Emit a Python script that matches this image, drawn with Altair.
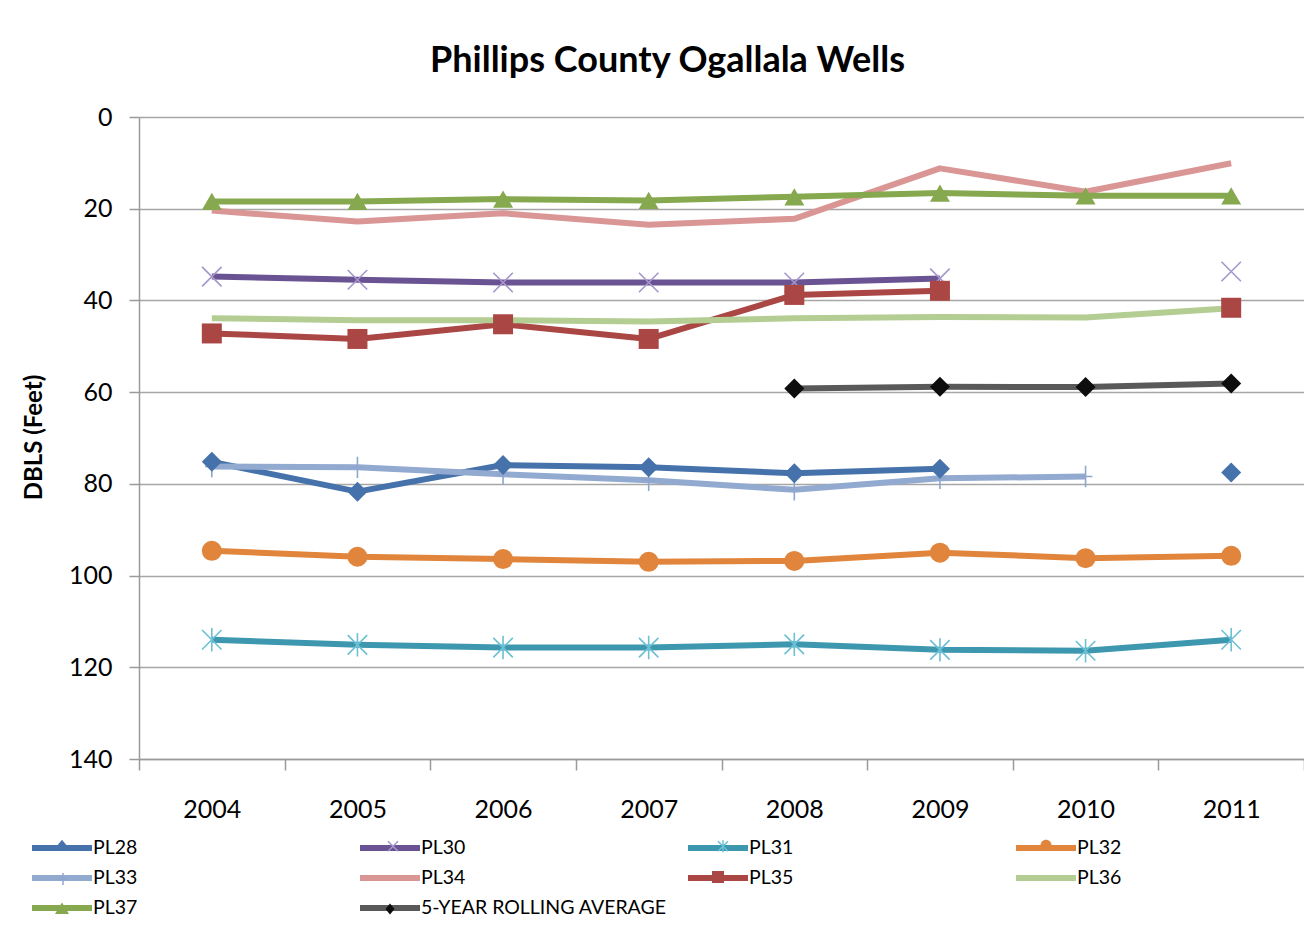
import altair as alt
import pandas as pd

years = ["2004", "2005", "2006", "2007", "2008", "2009", "2010", "2011"]
series_names = ["PL28", "PL30", "PL31", "PL32", "PL33", "PL34", "PL35", "PL36", "PL37",
                "5-YEAR ROLLING AVERAGE"]

pl28 = [75.2, 81.7, 75.9, 76.4, 77.7, 76.7, None, 77.5]
pl30 = [34.8, 35.5, 36.1, 36.1, 36.1, 35.2, None, 33.7]
pl31 = [114.0, 115.1, 115.7, 115.7, 115.0, 116.2, 116.4, 114.0]
pl32 = [94.6, 95.9, 96.4, 97.0, 96.8, 95.0, 96.2, 95.7]
pl33 = [76.2, 76.4, 77.9, 79.2, 81.3, 78.8, 78.4, None]
pl34 = [20.4, 22.8, 21.0, 23.5, 22.2, 11.2, 16.3, 10.1]
pl35 = [47.2, 48.4, 45.2, 48.4, 38.8, 37.9, None, 41.6]
pl36 = [43.9, 44.3, 44.3, 44.6, 43.9, 43.6, 43.7, 41.7]
pl37 = [18.4, 18.4, 17.9, 18.2, 17.4, 16.6, 17.2, 17.2]
rolling_avg = [None, None, None, None, 59.2, 58.8, 58.9, 58.1]

values = [pl28, pl30, pl31, pl32, pl33, pl34, pl35, pl36, pl37, rolling_avg]

# ---- styles ----
line_colors = ["#4672AB", "#6A5393", "#3D97AE", "#E0853B", "#92A9D0", "#D99694",
               "#AA4643", "#B4CD93", "#86A84E", "#595959"]
filled_series = ["PL28", "PL32", "PL35", "PL37", "5-YEAR ROLLING AVERAGE"]
filled_colors = ["#4672AB", "#E0853B", "#AA4643", "#86A84E", "#0D0D0D"]
filled_shapes = ["diamond", "circle", "square", "triangle-up", "diamond"]
filled_sizes = [400, 400, 400, 460, 380]
stroked_series = ["PL30", "PL31", "PL33"]
stroked_colors = ["#A596CC", "#6CC0D5", "#8EA6CE"]
stroked_shapes = ["M-1,-1L1,1M-1,1L1,-1",
                  "M-1,-1L1,1M-1,1L1,-1M0,-1.2L0,1.2",
                  "M0,-1.1L0,1.1M-0.7,0L0.7,0"]
stroked_sizes = [380, 380, 420]

# legend marker glyphs (small shapes drawn on top of the legend line samples)
EMPTY = "M0,0"
DIAMOND_S = "M0,-0.55L0.45,0L0,0.55L-0.45,0Z"
CIRCLE_S = "M-0.55,0A0.55,0.55 0 1,0 0.55,0A0.55,0.55 0 1,0 -0.55,0Z"
SQUARE_S = "M-0.6,-0.6H0.6V0.6H-0.6Z"
TRI_S = "M0,-0.65L0.7,0.5H-0.7Z"
X_S = "M-0.5,-0.5L0.5,0.5M-0.5,0.5L0.5,-0.5"
AST_S = "M-0.5,-0.5L0.5,0.5M-0.5,0.5L0.5,-0.5M0,-0.6V0.6"
PLUS_S = "M0,-0.6V0.6M-0.5,0H0.5"
legend_filled_shapes = [DIAMOND_S, EMPTY, EMPTY, CIRCLE_S, EMPTY, EMPTY, SQUARE_S, EMPTY,
                        TRI_S, DIAMOND_S]
legend_filled_colors = ["#4672AB", "#000", "#000", "#E0853B", "#000", "#000", "#AA4643",
                        "#000", "#86A84E", "#0D0D0D"]
legend_stroked_shapes = [EMPTY, X_S, AST_S, EMPTY, PLUS_S, EMPTY, EMPTY, EMPTY, EMPTY, EMPTY]
legend_stroked_colors = ["#000", "#A596CC", "#6CC0D5", "#000", "#8EA6CE", "#000", "#000",
                         "#000", "#000", "#000"]

rows = []
for name, vals in zip(series_names, values):
    seg = 0
    for yr, v in zip(years, vals):
        if v is None:
            seg += 1
            continue
        rows.append({"year": yr, "series": name, "value": v, "seg": f"{name}-{seg}"})
df = pd.DataFrame(rows)

FONT = "Lato"
LEG_X, LEG_Y = -90, 718

x_enc = alt.X(
    "year:O",
    bandPosition=0.5,
    scale=alt.Scale(type="band", domain=years, paddingInner=0, paddingOuter=0),
    axis=alt.Axis(title=None, tickBand="extent", labelAngle=0, labelFont=FONT,
                  labelFontSize=25, labelColor="black", labelPadding=27,
                  tickSize=11, tickColor="#9A9A9A", tickWidth=1.5,
                  domainColor="#9A9A9A", domainWidth=1.5, grid=False),
)
y_enc = alt.Y(
    "value:Q",
    scale=alt.Scale(domain=[0, 140], reverse=True, nice=False, zero=False),
    axis=alt.Axis(title="DBLS (Feet)", values=[0, 20, 40, 60, 80, 100, 120, 140],
                  labelFont=FONT, labelFontSize=25, labelColor="black",
                  labelPadding=17, tickSize=10, tickColor="#9A9A9A", tickWidth=1.5,
                  domainColor="#9A9A9A", domainWidth=1.5,
                  grid=True, gridColor="#A6A6A6", gridWidth=1.5,
                  titleFont=FONT, titleFontSize=24, titleFontWeight="bold",
                  titleColor="black", titleX=-93, titleY=320),
)

lines = alt.Chart(df).mark_line(strokeWidth=6, strokeJoin="round").encode(
    x=x_enc,
    y=y_enc,
    color=alt.Color(
        "series:N",
        scale=alt.Scale(domain=series_names, range=line_colors),
        legend=alt.Legend(
            title=None, orient="none", legendX=LEG_X, legendY=LEG_Y,
            direction="horizontal", columns=4, gridAlign="all",
            columnPadding=9, rowPadding=5,
            symbolType="M-3,0H3", symbolSize=400, symbolStrokeWidth=6,
            labelOffset=18, labelFont=FONT, labelFontSize=19.5, labelColor="black",
            labelLimit=400, padding=0,
        ),
    ),
    detail="seg:N",
)

filled_pts = alt.Chart(df).transform_filter(
    alt.FieldOneOfPredicate(field="series", oneOf=filled_series)
).mark_point(filled=True, opacity=1, strokeWidth=0).encode(
    x=x_enc,
    y=y_enc,
    color=alt.Color("series:N", scale=alt.Scale(domain=filled_series, range=filled_colors), legend=None),
    shape=alt.Shape("series:N", scale=alt.Scale(domain=filled_series, range=filled_shapes), legend=None),
    size=alt.Size("series:N", scale=alt.Scale(domain=filled_series, range=filled_sizes), legend=None),
)

stroked_pts = alt.Chart(df).transform_filter(
    alt.FieldOneOfPredicate(field="series", oneOf=stroked_series)
).mark_point(filled=False, opacity=1, strokeWidth=1.6).encode(
    x=x_enc,
    y=y_enc,
    color=alt.Color("series:N", scale=alt.Scale(domain=stroked_series, range=stroked_colors), legend=None),
    shape=alt.Shape("series:N", scale=alt.Scale(domain=stroked_series, range=stroked_shapes), legend=None),
    size=alt.Size("series:N", scale=alt.Scale(domain=stroked_series, range=stroked_sizes), legend=None),
)


def marker_legend(stroke_w):
    return alt.Legend(
        title=None, orient="none", legendX=LEG_X + 3, legendY=LEG_Y,
        direction="horizontal", columns=4, gridAlign="all",
        columnPadding=290, rowPadding=12,
        symbolSize=400, symbolStrokeWidth=stroke_w, symbolOpacity=1,
        labelOffset=18, labelFont=FONT, labelFontSize=19.5, labelExpr="''",
        padding=0,
    )


# layers with no marks: they only supply the marker glyphs of the legend
legend_filled = alt.Chart(df).transform_filter("datum.value < 0").mark_point(
    filled=True, strokeWidth=0
).encode(
    x=x_enc,
    y=y_enc,
    color=alt.Color("series:N", scale=alt.Scale(domain=series_names, range=legend_filled_colors),
                    legend=marker_legend(0)),
    shape=alt.Shape("series:N", scale=alt.Scale(domain=series_names, range=legend_filled_shapes),
                    legend=marker_legend(0)),
)

legend_stroked = alt.Chart(df).transform_filter("datum.value < 0").mark_point(
    filled=False, strokeWidth=1.5
).encode(
    x=x_enc,
    y=y_enc,
    color=alt.Color("series:N", scale=alt.Scale(domain=series_names, range=legend_stroked_colors),
                    legend=marker_legend(1.5)),
    shape=alt.Shape("series:N", scale=alt.Scale(domain=series_names, range=legend_stroked_shapes),
                    legend=marker_legend(1.5)),
)

chart = alt.layer(lines, stroked_pts, filled_pts, legend_stroked, legend_filled).resolve_scale(
    color="independent", shape="independent", size="independent"
).properties(
    width=1165,
    height=642,
    autosize=alt.AutoSizeParams(type="none"),
    padding={"left": 131, "top": 109, "right": 0, "bottom": 162},
    title=alt.Title("Phillips County Ogallala Wells", font=FONT, fontSize=36,
                    fontWeight="bold", color="black", anchor="middle", dx=-54,
                    offset=25),
    background="white",
).configure_view(strokeWidth=0)

chart.save("out.html", embed_options={"renderer": "svg", "actions": False})
